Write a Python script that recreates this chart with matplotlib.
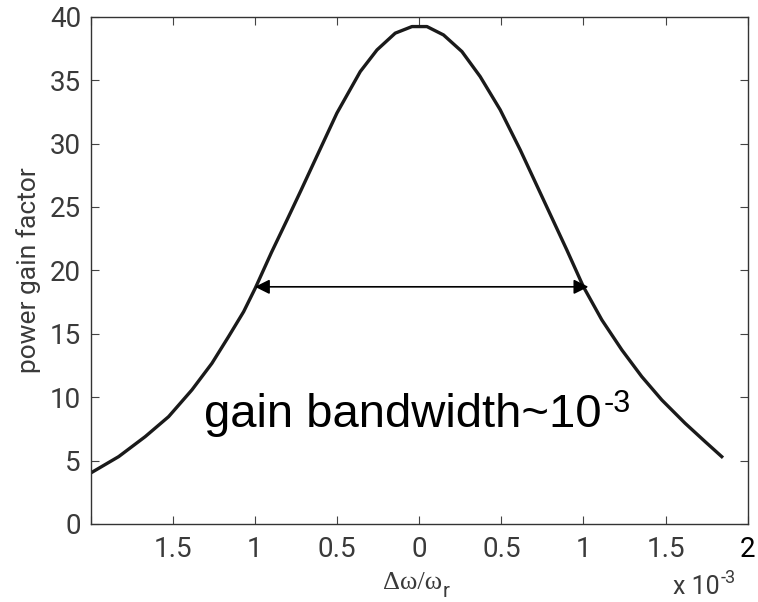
"""Power gain vs. normalised detuning, with the gain bandwidth marked."""

import matplotlib

matplotlib.use("Agg")
import matplotlib.pyplot as plt  # noqa: E402
from matplotlib.ticker import FuncFormatter  # noqa: E402

# detuning in units of 1e-3, gain read per point
detuning = [-1.996, -1.830, -1.668, -1.526, -1.384, -1.262, -1.161, -1.069, -0.998,
            -0.900, -0.805, -0.720, -0.643, -0.501, -0.359, -0.257, -0.146, -0.044,
            0.047, 0.148, 0.260, 0.371, 0.493, 0.615, 0.757, 0.899, 1.000, 1.112,
            1.234, 1.355, 1.477, 1.619, 1.741, 1.842]
gain = [4.05, 5.31, 6.89, 8.46, 10.57, 12.67, 14.77, 16.74, 18.6,
        21.4, 23.97, 26.3, 28.45, 32.4, 35.67, 37.38, 38.7, 39.22,
        39.22, 38.56, 37.25, 35.28, 32.66, 29.5, 25.55, 21.6, 18.7, 16.09,
        13.72, 11.62, 9.78, 7.94, 6.49, 5.31]

band_edges = [-1.0, 1.03]
half_gain = 18.7
x_ticks = [-2.0, -1.5, -1.0, -0.5, 0.0, 0.5, 1.0, 1.5, 2.0]
y_ticks = [0, 5, 10, 15, 20, 25, 30, 35, 40]

tick_gray = "#3a3a3a"

fig = plt.figure(figsize=(7.58, 6.02), dpi=100)
ax = fig.add_axes([0.1197, 0.1296, 0.8667, 0.8427])

ax.plot(detuning, gain, color="#1a1a1a", linewidth=2.4, solid_joinstyle="round")

ax.annotate("", xy=(band_edges[1], half_gain), xytext=(band_edges[0], half_gain),
            arrowprops=dict(arrowstyle="<|-|>", color="black", lw=1.2,
                            mutation_scale=22, shrinkA=0, shrinkB=0))

label = ax.text(-1.309, 7.67, "gain bandwidth~10", family="Liberation Sans",
                fontsize=34, color="black", va="baseline")
ax.annotate("-3", xy=(1, 1), xycoords=label, xytext=(1, 3),
            textcoords="offset points", family="Liberation Sans", fontsize=22,
            color="black", ha="left", va="top")

ax.set_xlim(-2.0, 2.0)
ax.set_ylim(0, 40)
ax.set_xticks(x_ticks)
ax.set_yticks(y_ticks)


def _abs_label(v, _pos):
    if v <= -1.99:
        return ""
    return f"{abs(v):g}"


ax.xaxis.set_major_formatter(FuncFormatter(_abs_label))
ax.tick_params(direction="in", length=6, width=0.8, color="#444444",
               top=True, right=True)
ax.tick_params(axis="x", pad=9)
ax.tick_params(axis="y", pad=7)
for lab in ax.get_xticklabels() + ax.get_yticklabels():
    lab.set_fontfamily("Roboto")
    lab.set_fontsize(20)
    lab.set_color(tick_gray)
ax.get_xticklabels()[-1].set_color("black")

for side in ax.spines.values():
    side.set_color("#333333")
    side.set_linewidth(1.0)

ax.set_ylabel("power gain factor", family="Roboto", fontsize=19,
              color=tick_gray, labelpad=6)

# x-axis label: Δω/ω with a sans subscript r
xlab = fig.text(0.505, 0.022, "\u0394\u03c9/\u03c9", family="Liberation Serif",
                fontsize=19, color=tick_gray, ha="left", va="baseline")
ax.annotate("r", xy=(1, 0), xycoords=xlab, xytext=(0.5, -5),
            textcoords="offset points", family="Roboto", fontsize=15,
            color=tick_gray, ha="left", va="bottom", annotation_clip=False)

# axis multiplier
mult = fig.text(0.888, 0.014, "x 10", family="Roboto", fontsize=18,
                color=tick_gray, ha="left", va="baseline")
ax.annotate("-3", xy=(1, 1), xycoords=mult, xytext=(1, 4),
            textcoords="offset points", family="Roboto", fontsize=13,
            color=tick_gray, ha="left", va="top", annotation_clip=False)

fig.savefig("out.png", dpi=100)
plt.close(fig)
